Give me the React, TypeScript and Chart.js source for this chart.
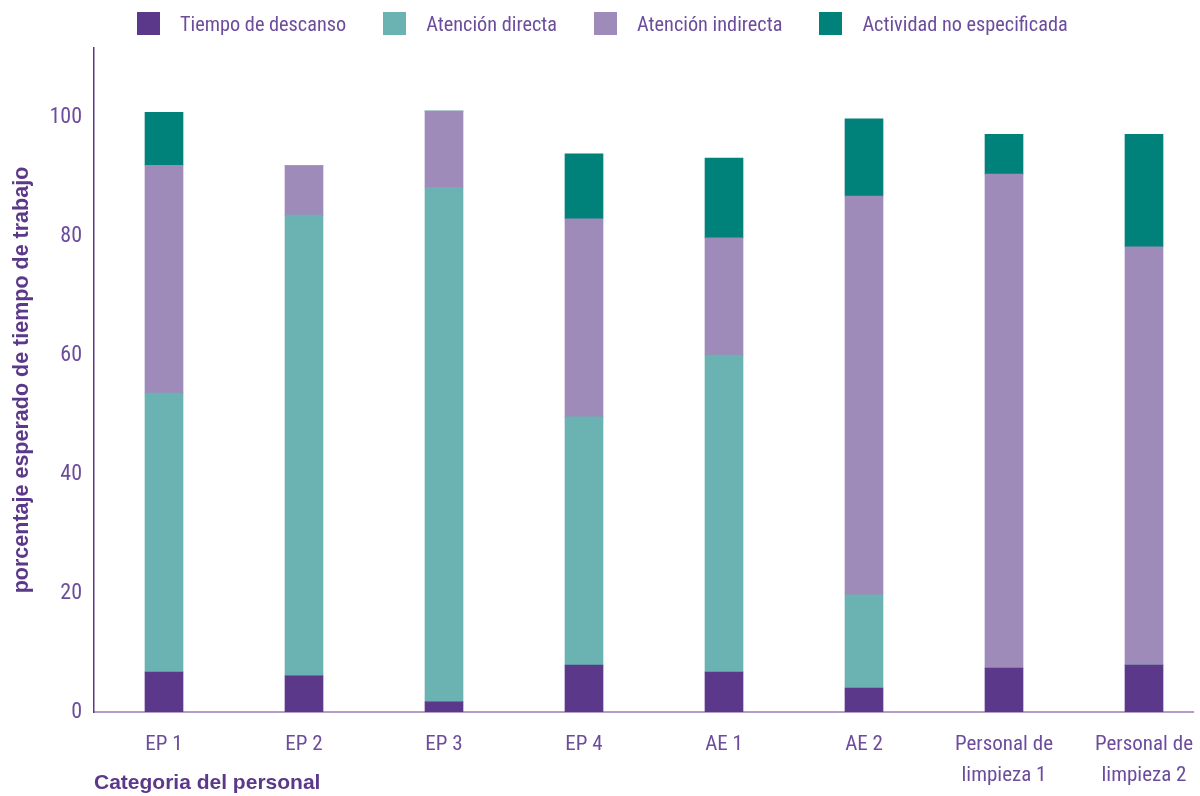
import React, { useEffect, useRef } from "react";
import { Chart, registerables } from "chart.js";

Chart.register(...registerables);

const categories: (string | string[])[] = [
  "EP 1",
  "EP 2",
  "EP 3",
  "EP 4",
  "AE 1",
  "AE 2",
  ["Personal de", "limpieza 1"],
  ["Personal de", "limpieza 2"],
];

const seriesNames = [
  "Tiempo de descanso",
  "Atención directa",
  "Atención indirecta",
  "Actividad no especificada",
];

const seriesColors = ["#5c388a", "#6ab3b2", "#9e8bb9", "#00827a"];

const tiempoDescanso = [6.7, 6.1, 1.7, 7.9, 6.7, 4.0, 7.4, 7.9];
const atencionDirecta = [46.9, 77.4, 86.5, 41.7, 53.3, 15.7, 0, 0];
const atencionIndirecta = [38.3, 8.3, 12.8, 33.3, 19.7, 67.0, 83.0, 70.3];
const actividadNoEspecificada = [8.9, 0, 0, 10.9, 13.4, 13.0, 6.7, 18.9];

const yTicks = [0, 20, 40, 60, 80, 100];

const yTitle = "porcentaje esperado de tiempo de trabajo";
const xTitle = "Categoria del personal";

const TEXT = "#6c4c9c";
const TITLE = "#5c388a";
const NARROW = "'Liberation Sans Narrow', 'Roboto Condensed', 'Liberation Sans', sans-serif";
const BOLD = "'Liberation Sans', Arial, sans-serif";

export default function App() {
  const canvasRef = useRef<HTMLCanvasElement | null>(null);

  useEffect(() => {
    const canvas = canvasRef.current;
    if (!canvas) return;
    const values = [tiempoDescanso, atencionDirecta, atencionIndirecta, actividadNoEspecificada];
    const chart = new Chart(canvas, {
      type: "bar",
      data: {
        labels: categories,
        datasets: seriesNames.map((name, i) => ({
          label: name,
          data: values[i],
          backgroundColor: seriesColors[i],
          borderWidth: 0,
          barThickness: 38,
          stack: "s",
        })),
      },
      options: {
        responsive: false,
        animation: false,
        devicePixelRatio: 1,
        layout: { padding: { top: 48, left: 0, right: 0, bottom: 0 } },
        plugins: {
          legend: { display: false },
          tooltip: { enabled: false },
        },
        scales: {
          x: {
            stacked: true,
            afterFit: (scale: any) => {
              scale.height = 84;
            },
            grid: { display: false, drawTicks: false },
            border: { display: true, color: "#b39dca", width: 2 },
            ticks: {
              color: TEXT,
              font: { family: NARROW, size: 21, lineHeight: 1.45 },
              padding: 18,
              maxRotation: 0,
              autoSkip: false,
            },
            title: {
              display: true,
              text: xTitle,
              align: "start",
              color: TITLE,
              font: { family: BOLD, size: 21, weight: "bold", lineHeight: 1.2 },
              padding: { top: 0, bottom: 0 },
            },
          },
          y: {
            stacked: true,
            min: 0,
            max: 111.6,
            afterFit: (scale: any) => {
              scale.width = 94;
            },
            afterBuildTicks: (scale: any) => {
              scale.ticks = yTicks.map((v) => ({ value: v }));
            },
            grid: { display: false, drawTicks: false },
            border: { display: true, color: "#5c388a", width: 1.5 },
            ticks: {
              color: TEXT,
              font: { family: NARROW, size: 22 },
              padding: 12,
              includeBounds: false,
            },
            title: {
              display: true,
              text: yTitle,
              color: TITLE,
              font: { family: BOLD, size: 21.5, weight: "bold", lineHeight: 1.2 },
              padding: { top: 9, bottom: 0 },
            },
          },
        },
      },
    } as any);
    return () => chart.destroy();
  }, []);

  return (
    <div
      style={{
        position: "absolute",
        left: 0,
        top: 0,
        width: 1194,
        height: 796,
        overflow: "hidden",
        background: "#ffffff",
      }}
    >
      <canvas ref={canvasRef} width={1214} height={796} style={{ display: "block" }} />
      <div
        style={{
          position: "absolute",
          left: 137,
          top: 12,
          display: "flex",
          alignItems: "center",
          height: 23,
          fontFamily: NARROW,
          fontSize: 20.3,
          color: TEXT,
          whiteSpace: "nowrap",
        }}
      >
        {seriesNames.map((name, i) => (
          <div
            key={name}
            style={{ display: "flex", alignItems: "center", marginRight: i < seriesNames.length - 1 ? 37 : 0 }}
          >
            <span
              style={{
                display: "inline-block",
                width: 23,
                height: 23,
                background: seriesColors[i],
                marginRight: 20,
              }}
            />
            <span>{name}</span>
          </div>
        ))}
      </div>
    </div>
  );
}
